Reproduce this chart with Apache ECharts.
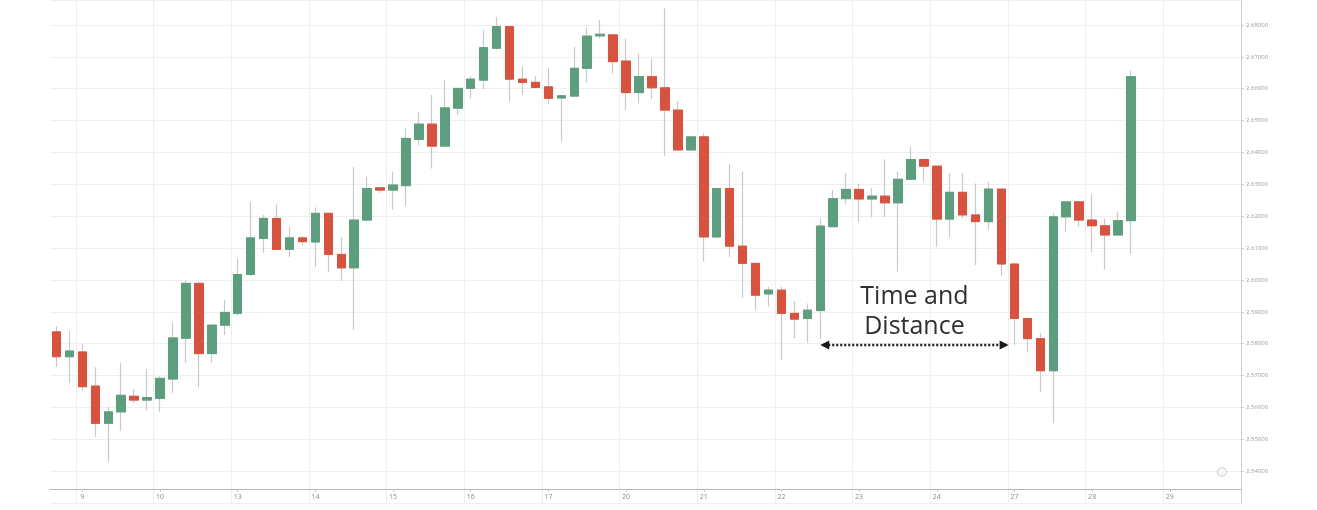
<!DOCTYPE html>
<html><head><meta charset="utf-8">
<script src="https://cdn.jsdelivr.net/npm/echarts@6/dist/echarts.min.js"></script>
<style>html,body{margin:0;padding:0;background:#fff}#c{width:1317px;height:510px}</style>
</head><body><div id="c"></div>
<script>
// Day labels shown on the time axis (one label every 6 four-hour candles)
const dayLabels = ['9','10','13','14','15','16','17','20','21','22','23','24','27','28','29'];
const hours = ['00','04','08','12','16','20'];
// Y axis range and tick step (top of the visible range is cut by the picture edge)
const yMin = 2.53, yMax = 2.68785, yStep = 0.01;

const opens = [2.5837,2.5759,2.5774,2.5667,2.5550,2.5586,2.5635,2.5623,2.5628,2.5689,
2.5817,2.5989,2.5769,2.5858,2.5895,2.6017,2.6130,2.6193,2.6096,2.6132,
2.6119,2.6209,2.6080,2.6038,2.6188,2.6289,2.6282,2.6296,2.6441,2.6489,
2.6420,2.6539,2.6601,2.6627,2.6727,2.6795,2.6630,2.6620,2.6606,2.6571,
2.6577,2.6664,2.6766,2.6769,2.6687,2.6588,2.6638,2.6603,2.6533,2.6408,
2.6449,2.6135,2.6287,2.6106,2.6052,2.5956,2.5968,2.5895,2.5879,2.5904,
2.6167,2.6255,2.6284,2.6254,2.6263,2.6242,2.6316,2.6378,2.6357,2.6191,
2.6275,2.6204,2.6183,2.6285,2.6050,2.5879,2.5816,2.5715,2.6198,2.6245,
2.6188,2.6170,2.6141,2.6186];
const closes = [2.5759,2.5777,2.5665,2.5550,2.5586,2.5638,2.5623,2.5631,2.5691,2.5818,
2.5989,2.5769,2.5858,2.5898,2.6017,2.6132,2.6193,2.6096,2.6132,2.6120,
2.6209,2.6080,2.6038,2.6188,2.6287,2.6282,2.6298,2.6444,2.6489,2.6420,
2.6540,2.6601,2.6630,2.6729,2.6795,2.6630,2.6620,2.6604,2.6570,2.6578,
2.6664,2.6765,2.6771,2.6685,2.6588,2.6638,2.6603,2.6533,2.6408,2.6449,
2.6135,2.6287,2.6106,2.6052,2.5952,2.5968,2.5895,2.5877,2.5905,2.6169,
2.6255,2.6284,2.6254,2.6263,2.6242,2.6316,2.6378,2.6357,2.6191,2.6275,
2.6204,2.6183,2.6285,2.6050,2.5879,2.5816,2.5715,2.6198,2.6245,2.6188,
2.6170,2.6141,2.6186,2.6638];
const lows = [2.5727,2.5677,2.5654,2.5508,2.5429,2.5527,2.5614,2.5591,2.5586,2.5646,
2.5740,2.5663,2.5740,2.5827,2.5887,2.6012,2.6085,2.6094,2.6071,2.6109,
2.6041,2.6026,2.5997,2.5843,2.6185,2.6272,2.6221,2.6232,2.6423,2.6350,
2.6418,2.6518,2.6570,2.6598,2.6722,2.6561,2.6582,2.6601,2.6551,2.6434,
2.6575,2.6620,2.6758,2.6648,2.6533,2.6554,2.6567,2.6389,2.6405,2.6405,
2.6057,2.6130,2.6073,2.5944,2.5905,2.5916,2.5748,2.5817,2.5803,2.5814,
2.6165,2.6238,2.6183,2.6196,2.6196,2.6026,2.6314,2.6308,2.6104,2.6135,
2.6193,2.6047,2.6157,2.6012,2.5796,2.5775,2.5649,2.5550,2.6151,2.6167,
2.6088,2.6033,2.6139,2.6081];
const highs = [2.5855,2.5840,2.5799,2.5726,2.5602,2.5740,2.5656,2.5720,2.5698,2.5866,
2.5999,2.5994,2.5861,2.5937,2.6068,2.6245,2.6204,2.6237,2.6167,2.6138,
2.6227,2.6212,2.6135,2.6355,2.6324,2.6292,2.6340,2.6476,2.6528,2.6580,
2.6627,2.6603,2.6640,2.6784,2.6826,2.6797,2.6669,2.6640,2.6664,2.6580,
2.6732,2.6792,2.6816,2.6771,2.6758,2.6711,2.6695,2.6852,2.6561,2.6451,
2.6460,2.6289,2.6363,2.6340,2.6054,2.5979,2.5979,2.5932,2.5926,2.6193,
2.6282,2.6335,2.6303,2.6288,2.6378,2.6340,2.6418,2.6380,2.6359,2.6335,
2.6335,2.6303,2.6308,2.6288,2.6052,2.5881,2.5834,2.6211,2.6247,2.6247,
2.6270,2.6193,2.6214,2.6657];

// Annotation
const noteLines = ['Time and', 'Distance'];
const arrowFrom = 59, arrowTo = 73.55, arrowLevel = 2.5796;

// Build the 4-hour category axis: two slots of day 8, then 6 per labelled day, then trailing slots
const categories = ['8 16:00', '8 20:00'];
dayLabels.forEach(d => hours.forEach(h => categories.push(d + ' ' + h + ':00')));
const slots = 92;
categories.length = slots;

const GREEN = '#5c9e7d', RED = '#d8533f', WICK = '#c9c9c9';
const full = opens.map((o, i) => [o, closes[i], lows[i], highs[i]]);
const bodies = opens.map((o, i) => [o, closes[i], Math.min(o, closes[i]), Math.max(o, closes[i])]);
const showIdx = (i) => i % 6 === 2;

const chart = echarts.init(document.getElementById('c'), null, {renderer: 'canvas'});
const option = {
  animation: false,
  backgroundColor: '#ffffff',
  grid: {left: 50, right: 76, top: 0, bottom: 7, containLabel: false},
  xAxis: {
    type: 'category', data: categories, boundaryGap: true, offset: -14,
    axisLine: {show: true, lineStyle: {color: '#b5b5b5', width: 1}},
    axisTick: {show: true, interval: (i) => showIdx(i), alignWithLabel: true, length: 3, lineStyle: {color: '#c8c8c8'}},
    axisLabel: {interval: (i) => showIdx(i), formatter: v => v.split(' ')[0], fontSize: 7, color: '#8a8a8a', margin: 4, fontFamily: 'Open Sans'},
    splitLine: {show: true, interval: (i) => showIdx(i), lineStyle: {color: '#eeeeee', width: 1}}
  },
  yAxis: {
    type: 'value', position: 'right', min: yMin, max: yMax, interval: yStep,
    axisLine: {show: true, lineStyle: {color: '#cfcfcf', width: 1}},
    axisTick: {show: true, length: 3, lineStyle: {color: '#cfcfcf'}},
    axisLabel: {formatter: v => v.toFixed(5), fontSize: 6, color: '#9a9a9a', margin: 5, showMinLabel: false, showMaxLabel: false, fontFamily: 'Open Sans'},
    splitLine: {show: true, lineStyle: {color: '#efefef', width: 1}}
  },
  series: [
    {type: 'candlestick', name: 'wick', data: full, barWidth: 9,
      itemStyle: {color: WICK, color0: WICK, borderColor: WICK, borderColor0: WICK, borderWidth: 1.2}},
    {type: 'candlestick', name: 'body', data: bodies, barWidth: 9,
      itemStyle: {color: GREEN, color0: RED, borderColor: GREEN, borderColor0: RED, borderWidth: 1}}
  ]
};
chart.setOption(option);

const a = chart.convertToPixel({gridIndex: 0}, [arrowFrom, arrowLevel]);
const b = chart.convertToPixel({gridIndex: 0}, [arrowFrom + 1, arrowLevel]);
const slot = b[0] - a[0];
const x1 = a[0], x2 = a[0] + (arrowTo - arrowFrom) * slot, y = a[1];
const cx = (x1 + x2) / 2;
const ah = 9, aw = 4.5;
chart.setOption({
  graphic: [
    {type: 'line', shape: {x1: x1 + ah - 1, y1: y, x2: x2 - ah + 1, y2: y},
      style: {stroke: '#1a1a1a', lineWidth: 2.5, lineDash: [2, 2]}, z: 100},
    {type: 'polygon', shape: {points: [[x1, y], [x1 + ah, y - aw], [x1 + ah, y + aw]]}, style: {fill: '#1a1a1a'}, z: 100},
    {type: 'polygon', shape: {points: [[x2, y], [x2 - ah, y - aw], [x2 - ah, y + aw]]}, style: {fill: '#1a1a1a'}, z: 100},
    {type: 'text', x: cx, y: y - 48, style: {text: noteLines[0], fill: '#303030', font: '25px "Open Sans"', align: 'center', verticalAlign: 'middle'}, z: 100},
    {type: 'text', x: cx, y: y - 18, style: {text: noteLines[1], fill: '#303030', font: '25px "Open Sans"', align: 'center', verticalAlign: 'middle'}, z: 100},
    {type: 'circle', shape: {cx: 1222, cy: 472, r: 4.5}, style: {fill: '#f6f6f6', stroke: '#d0d0d0', lineWidth: 1}, z: 100}
  ]
});
</script>
</body></html>
